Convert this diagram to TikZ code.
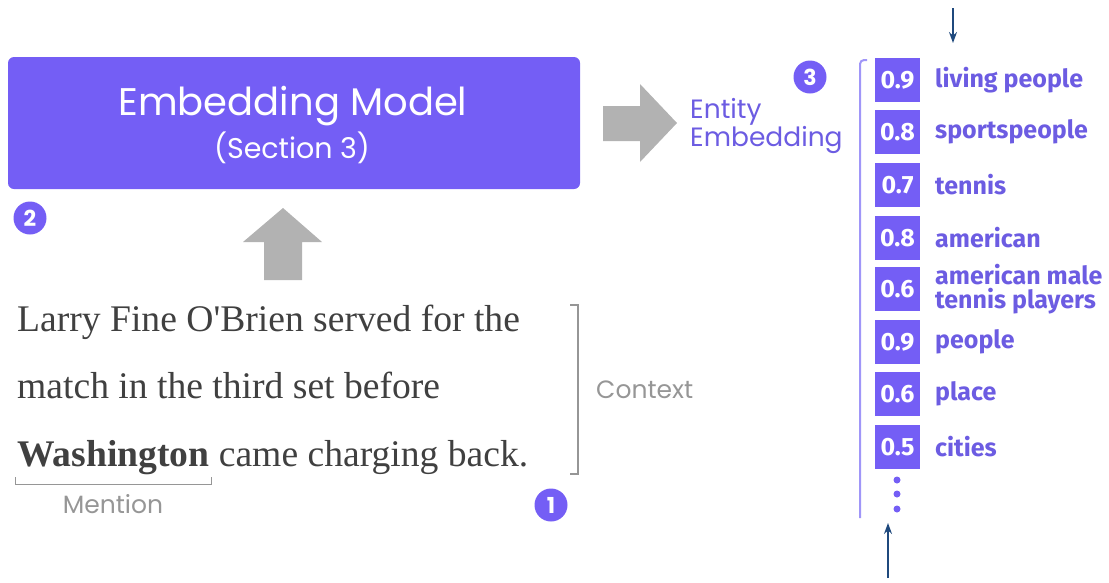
\documentclass[tikz,border=0pt]{standalone}
\usepackage{fontspec}
\setmainfont{Liberation Serif}
\newfontfamily\popf{Poppins}
\newfontfamily\listf{Fira Sans}
\usetikzlibrary{arrows.meta}
\definecolor{purp}{RGB}{116,94,245}
\definecolor{purtext}{RGB}{108,92,226}
\definecolor{brk}{RGB}{160,150,248}
\definecolor{garrow}{RGB}{178,178,178}
\definecolor{gtext}{RGB}{150,150,150}
\definecolor{stext}{RGB}{64,64,64}
\definecolor{navy}{RGB}{31,73,125}
\tikzset{
  badge/.style={circle,fill=purp,text=white,inner sep=0pt,minimum size=33pt,font=\popf\bfseries\fontsize{22}{22}\selectfont},
  scorebox/.style={fill=purp,text=white,inner sep=0pt,minimum width=45pt,minimum height=44pt,font=\listf\bfseries\fontsize{25}{25}\selectfont},
  catlabel/.style={anchor=west,inner sep=0pt,text=purtext,font=\listf\bfseries\fontsize{25}{24}\selectfont,align=left},
  sentence/.style={anchor=base west,inner sep=0pt,text=stext,font=\fontsize{37.6}{38}\selectfont},
  graylabel/.style={inner sep=0pt,text=gtext,font=\popf\fontsize{25}{25}\selectfont},
  navyarrow/.style={draw=navy,line width=1.5pt,-{Stealth[length=11pt,width=8pt]}},
  blockarrow/.style={fill=garrow,draw=none}
}
\begin{document}
\begin{tikzpicture}[x=1pt,y=-1pt]
\useasboundingbox (0,0) rectangle (1109,582);
% model box
\node[fill=purp,rounded corners=6pt,minimum width=572pt,minimum height=132pt,inner sep=0pt] (model) at (294,123) {};
\node[text=white,inner sep=0pt,font=\popf\fontsize{38.5}{38}\selectfont] (title) at (293,106) {Embedding Model};
\node[text=white,inner sep=0pt,font=\popf\fontsize{28.5}{28}\selectfont] (sec) at (292,148) {(Section 3)};
\node[badge] (b2) at (30,218) {2};
% up arrow
\fill[blockarrow] (264,280) -- (264,242) -- (243,242) -- (283,208) -- (322,242) -- (302,242) -- (302,280) -- cycle;
% right arrow
\fill[blockarrow] (603,106) -- (640,106) -- (640,84) -- (677,123) -- (640,162) -- (640,141) -- (603,141) -- cycle;
\node[anchor=west,inner sep=0pt,text=purtext,font=\popf\fontsize{26.5}{28}\selectfont,align=left] (ent) at (690,126) {Entity\\Embedding};
\node[badge] (b3) at (810,77) {3};
% list bracket
\draw[brk,line width=2pt,rounded corners=4pt] (867,60) -- (860,60) -- (860,518);
% list
\foreach \v/\lab/\y [count=\i] in {0.9/living people/80, 0.8/sportspeople/132, 0.7/tennis/185, 0.8/american/238, 0.6/{american male\\tennis players}/289, 0.9/people/342, 0.6/place/394, 0.5/cities/447}{
  \node[scorebox] (s\i) at (897.5,\y) {\v};
  \node[catlabel] (c\i) at (935,\y) {\lab};
}
\foreach \y [count=\i] in {480,494,509}{\fill[purp] (897,\y) circle (3.5pt);}
\coordinate (topstart) at (953,8);
\coordinate (topend) at (953,43);
\coordinate (botstart) at (888,578);
\coordinate (botend) at (888,523);
\draw[navyarrow] (topstart) -- (topend);
\draw[navyarrow] (botstart) -- (botend);
% sentence
\node[sentence] (l1) at (17,331) {Larry Fine O\textquotesingle Brien served for the};
\node[sentence] (l2) at (17,398) {match in the third set before};
\node[sentence] (l3) at (17,466) {\textbf{Washington} came charging back.};
\draw[gtext,line width=1pt] (15,477) -- (15,484) -- (211,484) -- (211,477);
\node[graylabel] (mention) at (113,504) {Mention};
\draw[gtext,line width=1.2pt] (570,305) -- (578,305) -- (578,474) -- (570,474);
\node[graylabel,anchor=west] (context) at (596,390) {Context};
\node[badge] (b1) at (551,505) {1};
\end{tikzpicture}
\end{document}
